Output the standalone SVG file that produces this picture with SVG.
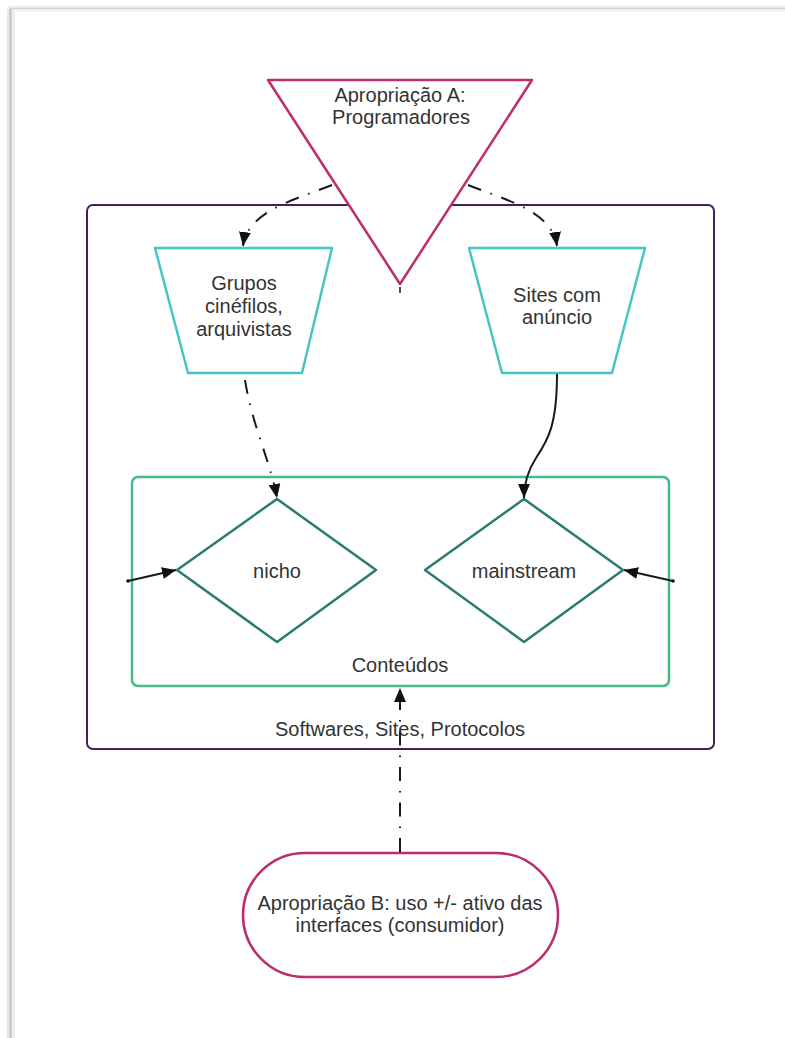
<svg xmlns="http://www.w3.org/2000/svg" width="785" height="1038" viewBox="0 0 785 1038">
<style>
  .lbl { font-family: "Liberation Sans", Arial, sans-serif; font-size: 20px; fill: #333333; text-anchor: middle; }
  .cn { fill: none; stroke: #1a1a1a; stroke-width: 2; }
  .dd { stroke-dasharray: 14 10 1.5 10; }
  .trap { fill: #ffffff; stroke: #45c6c4; stroke-width: 2.5; stroke-linejoin: round; }
  .dia { fill: #ffffff; stroke: #2b7b73; stroke-width: 2.5; stroke-linejoin: round; }
  .mag { fill: #ffffff; stroke: #bb2d6e; stroke-width: 2.5; stroke-linejoin: round; }
</style>
<defs>
  <marker id="arr" markerUnits="userSpaceOnUse" markerWidth="16" markerHeight="14" refX="14" refY="6" orient="auto">
    <path d="M0,0 L14,6 L0,12 Z" fill="#111111"/>
  </marker>
</defs>
<rect x="0" y="0" width="785" height="1038" fill="#ffffff"/>
<g id="page-edge">
  <line x1="8" y1="7" x2="785" y2="7" stroke="#eeeeee" stroke-width="2"/>
  <line x1="9" y1="8.5" x2="785" y2="8.5" stroke="#d2d2d2" stroke-width="1.5"/>
  <line x1="10" y1="10.5" x2="785" y2="10.5" stroke="#f1f1f1" stroke-width="2"/>
  <line x1="8" y1="9" x2="8" y2="1038" stroke="#e6e6e6" stroke-width="2"/>
  <line x1="10.5" y1="9" x2="10.5" y2="1038" stroke="#c4c4c4" stroke-width="2.5"/>
  <line x1="13.5" y1="10" x2="13.5" y2="1038" stroke="#ececec" stroke-width="2.5"/>
</g>
<g id="softwares-container">
  <rect x="87" y="205" width="627" height="544" rx="6" fill="#ffffff" stroke="#42215a" stroke-width="2"/>
  <text class="lbl" x="400" y="736">Softwares, Sites, Protocolos</text>
</g>
<g id="conteudos-container">
  <rect x="132" y="477" width="537" height="209" rx="6" fill="#ffffff" stroke="#42bd85" stroke-width="2.5"/>
  <text class="lbl" x="400" y="672">Conteúdos</text>
</g>
<g id="grupos">
  <path class="trap" d="M155,248 L332,248 L302,373 L188,373 Z"/>
  <text class="lbl" x="244" y="290">Grupos</text>
  <text class="lbl" x="244" y="313">cinéfilos,</text>
  <text class="lbl" x="244" y="336">arquivistas</text>
</g>
<g id="sites">
  <path class="trap" d="M469,248 L645,248 L612,373 L502,373 Z"/>
  <text class="lbl" x="557" y="302">Sites com</text>
  <text class="lbl" x="557" y="324">anúncio</text>
</g>
<g id="nicho">
  <path class="dia" d="M277,499 L376,570 L277,642 L177,570 Z"/>
  <text class="lbl" x="277" y="578">nicho</text>
</g>
<g id="mainstream">
  <path class="dia" d="M524,499 L623,570 L524,642 L425,570 Z"/>
  <text class="lbl" x="524" y="578">mainstream</text>
</g>
<g id="apropriacao-a">
  <path class="mag" d="M268,80 L532,80 L400,284 Z"/>
  <text class="lbl" x="400" y="102">Apropriação A:</text>
  <text class="lbl" x="401" y="124">Programadores</text>
</g>
<g id="apropriacao-b">
  <rect class="mag" x="243" y="853" width="315" height="124" rx="62"/>
  <text class="lbl" x="400" y="910">Apropriação B: uso +/- ativo das</text>
  <text class="lbl" x="400" y="932">interfaces (consumidor)</text>
</g>
<g id="connectors">
  <path class="cn dd" d="M332,185 C298,199 248,210 243,246" marker-end="url(#arr)"/>
  <path class="cn dd" d="M468,185 C502,199 552,210 557,246" marker-end="url(#arr)"/>
  <path class="cn dd" d="M245,380 C252,425 270,460 277,498" marker-end="url(#arr)"/>
  <path class="cn" d="M557,374 C557,425 548,440 536,458 C527,472 524,485 524,498" marker-end="url(#arr)"/>
  <path class="cn" d="M128,581 L176,570" marker-end="url(#arr)"/>
  <circle cx="128" cy="581" r="1.8" fill="#111111"/>
  <path class="cn" d="M673,581 L624,570" marker-end="url(#arr)"/>
  <circle cx="673" cy="581" r="1.8" fill="#111111"/>
  <path class="cn dd" d="M400,852 L400,688" marker-end="url(#arr)"/>
  <line x1="400" y1="287" x2="400" y2="293" stroke="#1a1a1a" stroke-width="1.5"/>
</g>
</svg>
